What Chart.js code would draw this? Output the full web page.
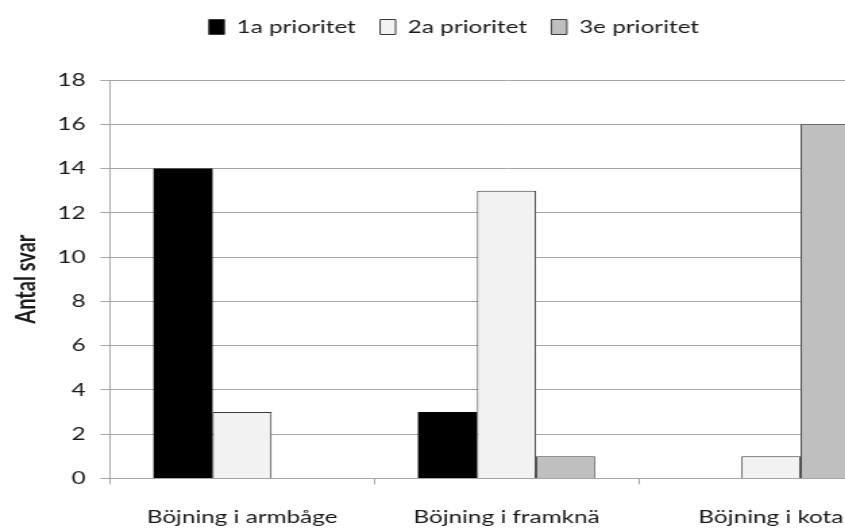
<!DOCTYPE html>
<html>
<head>
<meta charset="utf-8">
<script src="https://cdn.jsdelivr.net/npm/chart.js@4/dist/chart.umd.min.js"></script>
<style>
    html, body { margin: 0; padding: 0; background: #fff; overflow: hidden; }
    /* originalet är horisontellt utdraget, så vi ritar smalare och sträcker ut */
    #wrap { width: 672px; height: 560px; transform: scaleX(1.35); transform-origin: 0 0; }
    #chart { width: 672px; height: 560px; display: block; }
</style>
</head>
<body>
<div id="wrap"><canvas id="chart" width="672" height="560"></canvas></div>
<script>
// Data
const kategorier = ['Böjning i armbåge', 'Böjning i framknä', 'Böjning i kota'];
const prio1 = [14, 3, 0];
const prio2 = [3, 13, 1];
const prio3 = [0, 1, 16];
const serieNamn = ['1a prioritet', '2a prioritet', '3e prioritet'];
const yTicks = [0, 2, 4, 6, 8, 10, 12, 14, 16, 18];

const textFarg = '#1a1a1a';
const gridFarg = '#a6a6a6';

// Extra luft under förklaringen
const legendMargin = {
    id: 'legendMargin',
    beforeInit(chart) {
        const fit = chart.legend.fit;
        chart.legend.fit = function () {
            fit.bind(chart.legend)();
            this.height += 34;
        };
    }
};

const ctx = document.getElementById('chart').getContext('2d');
new Chart(ctx, {
    type: 'bar',
    data: {
        labels: kategorier,
        datasets: [{
            label: serieNamn[0],
            data: prio1,
            backgroundColor: '#000000',
            borderColor: '#000000',
            borderWidth: 0
        }, {
            label: serieNamn[1],
            data: prio2,
            backgroundColor: '#f2f2f2',
            borderColor: '#3a3a3a',
            borderWidth: 1
        }, {
            label: serieNamn[2],
            data: prio3,
            backgroundColor: '#bfbfbf',
            borderColor: '#3a3a3a',
            borderWidth: 1
        }]
    },
    options: {
        responsive: false,
        animation: false,
        datasets: {
            bar: { barPercentage: 1, categoryPercentage: 0.67 }
        },
        layout: { padding: { left: 3.5, right: 3, top: 0, bottom: 10 } },
        plugins: {
            legend: {
                position: 'top',
                labels: {
                    font: { family: 'Lato', size: 18 },
                    color: textFarg,
                    boxWidth: 11.5,
                    boxHeight: 15,
                    padding: 18,
                    generateLabels(chart) {
                        return chart.data.datasets.map((ds, i) => ({
                            text: ds.label,
                            fillStyle: ds.backgroundColor,
                            strokeStyle: '#3a3a3a',
                            lineWidth: 1,
                            fontColor: textFarg,
                            datasetIndex: i
                        }));
                    }
                }
            },
            tooltip: { enabled: false }
        },
        scales: {
            x: {
                grid: {
                    drawOnChartArea: false,
                    drawTicks: true,
                    tickLength: 6,
                    color: gridFarg
                },
                border: { display: true, color: gridFarg },
                ticks: {
                    font: { family: 'Lato', size: 18 },
                    color: textFarg,
                    padding: 22,
                    maxRotation: 0
                }
            },
            y: {
                min: 0,
                max: 18,
                afterBuildTicks(scale) {
                    scale.ticks = yTicks.map(v => ({ value: v }));
                },
                grid: { color: gridFarg, tickLength: 7 },
                border: { display: true, color: gridFarg },
                ticks: {
                    font: { family: 'Lato', size: 18 },
                    color: textFarg,
                    padding: 11
                },
                title: {
                    display: true,
                    text: 'Antal svar',
                    font: { family: 'Lato', size: 20, weight: 'bold' },
                    color: textFarg,
                    padding: { top: 4, bottom: 0 }
                }
            }
        }
    },
    plugins: [legendMargin]
});
</script>
</body>
</html>
